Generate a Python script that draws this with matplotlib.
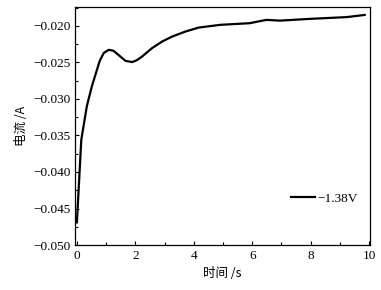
import matplotlib
matplotlib.use('Agg')
import matplotlib.pyplot as plt
from matplotlib.ticker import MultipleLocator

# dados
tempo = [0.0, 0.15, 0.34, 0.51, 0.68, 0.78, 0.92, 1.09, 1.25, 1.43, 1.66, 1.89,
         2.05, 2.23, 2.57, 2.92, 3.26, 3.71, 4.17, 4.9, 5.92, 6.2, 6.49, 6.95,
         7.97, 9.23, 9.85]
corrente = [-0.0469, -0.0356, -0.0310, -0.0283, -0.0261, -0.0248, -0.0237,
            -0.02328, -0.0234, -0.0240, -0.02478, -0.02496, -0.0247, -0.0242,
            -0.02305, -0.02214, -0.02146, -0.02078, -0.02023, -0.01986, -0.01963,
            -0.0194, -0.01918, -0.01928, -0.01904, -0.0188, -0.0185]
legenda = '\u22121.38V'

plt.rcParams['font.family'] = ['Liberation Serif', 'Noto Sans CJK SC']
plt.rcParams['axes.unicode_minus'] = True

fig = plt.figure(figsize=(3.81, 2.90), dpi=100)
ax = fig.add_axes([0.198, 0.155, 0.773, 0.820])

ax.plot(tempo, corrente, color='black', lw=1.6, label=legenda)

ax.set_xlim(-0.05, 10.03)
ax.set_ylim(-0.050, -0.01745)
ax.xaxis.set_major_locator(MultipleLocator(2))
ax.xaxis.set_minor_locator(MultipleLocator(1))
ax.yaxis.set_major_locator(MultipleLocator(0.005))
ax.yaxis.set_minor_locator(MultipleLocator(0.0025))
ax.yaxis.set_major_formatter(plt.FuncFormatter(lambda v, p: ('%.3f' % v).replace('-', '\u2212')))
ax.tick_params(which='both', direction='in', labelsize=9.5, width=0.8)
ax.tick_params(which='major', length=3)
ax.tick_params(which='minor', length=2)
for s in ax.spines.values():
    s.set_linewidth(0.9)

ax.set_xlabel('时间 /s', fontsize=9, family=['Noto Sans CJK SC'])
ax.set_ylabel('电流 /A', fontsize=9, family=['Noto Sans CJK SC'])

ax.legend(loc='lower right', bbox_to_anchor=(1.0, 0.12), frameon=False,
          fontsize=9.5, handlelength=1.8, handletextpad=0.2)

fig.savefig('out.png', dpi=100)
